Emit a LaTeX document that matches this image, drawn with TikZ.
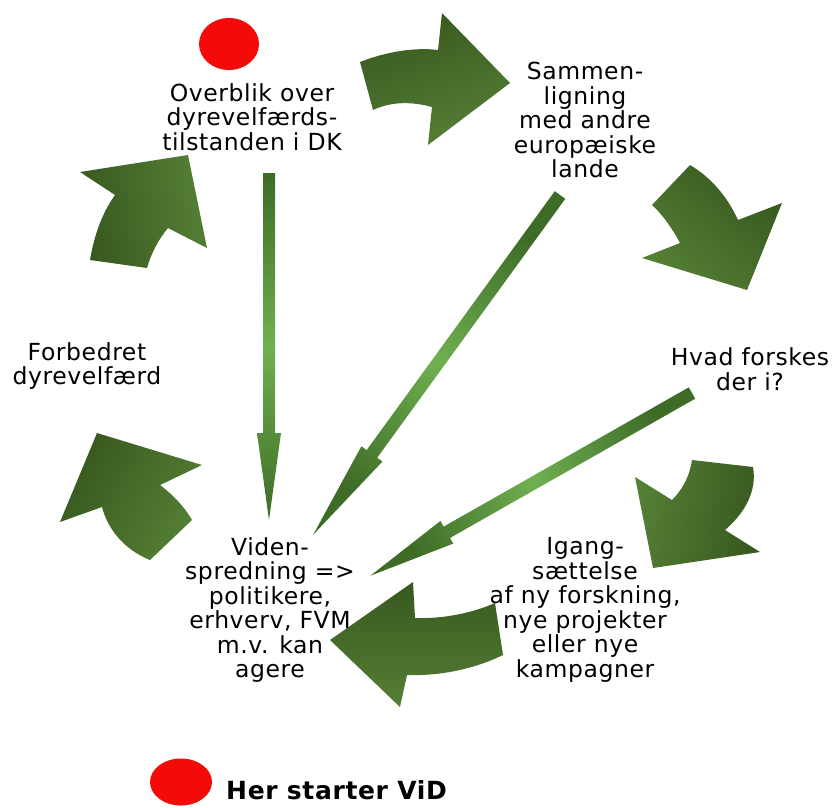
\documentclass[tikz,border=0pt]{standalone}
\usepackage{fontspec}
\setmainfont[LetterSpace=2.5]{DejaVu Sans}
\definecolor{gdark}{HTML}{37581F}
\definecolor{glight}{HTML}{557F35}
\definecolor{tdark}{HTML}{3E6C27}
\definecolor{tlight}{HTML}{6FB050}
\definecolor{dotred}{HTML}{F50A0A}
\usetikzlibrary{shapes.geometric}
\tikzset{
  bigarrow/.style={top color=gdark, bottom color=glight, draw=none},
  thinarrow/.style={top color=tdark, bottom color=tdark, middle color=tlight, draw=none},
  lbl/.style={align=center, font=\fontsize{23.5}{24.5}\selectfont, inner sep=0pt, text=black},
  dot/.style={ellipse, fill=dotred, draw=none, inner sep=0pt}
}
\begin{document}
\begin{tikzpicture}[x=1pt,y=-1pt]
\useasboundingbox (0,0) rectangle (834,807);

% big curved arrows
\shade[bigarrow, shading angle=20] (360,62) .. controls (385,52) and (415,47) .. (438,50) -- (442,13) -- (510,83) -- (428,145) -- (432,107) .. controls (410,101) and (390,102) .. (373,110) -- cycle;
\shade[bigarrow, shading angle=-40] (690,165) .. controls (712,178) and (728,198) .. (738,220) -- (782,203) -- (747,290) -- (642,258) -- (680,243) .. controls (672,228) and (662,214) .. (652,205) -- cycle;
\shade[bigarrow, shading angle=-100] (753,467) .. controls (757,490) and (746,512) .. (725,530) -- (760,552) -- (653,568) -- (635,477) -- (672,500) .. controls (684,488) and (690,474) .. (692,460) -- cycle;
\shade[bigarrow, shading angle=0] (503,655) .. controls (470,671) and (435,676) .. (407,675) -- (400,707) -- (330,640) -- (413,582) -- (415,618) .. controls (440,619) and (470,614) .. (495,603) -- cycle;
\shade[bigarrow, shading angle=60] (150,560) .. controls (125,550) and (108,530) .. (102,507) -- (60,522) -- (97,433) -- (202,465) -- (160,485) .. controls (172,494) and (184,506) .. (192,520) -- cycle;
\shade[bigarrow, shading angle=100] (90,260) .. controls (94,236) and (102,213) .. (115,195) -- (80,172) -- (188,155) -- (207,248) -- (168,228) .. controls (158,240) and (151,254) .. (147,268) -- cycle;

% labels
\node[lbl] (overblik) at (252,117) {Overblik over\\dyrevelfærds-\\tilstanden i DK};
\node[lbl] (sammen) at (585,120) {Sammen-\\ligning\\med andre\\europæiske\\lande};
\node[lbl] (hvad) at (750,369) {Hvad forskes\\der i?};
\node[lbl] (forbedret) at (87,366) {Forbedret\\dyrevelfærd};
\node[lbl] (viden) at (270,610) {Viden-\\spredning =>\\politikere,\\erhverv, FVM\\m.v. kan\\agere};
\node[lbl] (igang) at (585,610) {Igang-\\sættelse\\af ny forskning,\\nye projekter\\eller nye\\kampagner};

% red dots
\node[dot, minimum width=60pt, minimum height=52pt] (dottop) at (229,44) {};
\node[dot, minimum width=62pt, minimum height=47pt] (dotbot) at (181,782) {};
\node[anchor=base west, inner sep=0pt, font=\fontsize{25}{27}\selectfont\bfseries] (her) at (226,799) {Her starter ViD};

% thin arrows
\coordinate (s1) at (269,173);
\coordinate (s2) at (560,195);
\coordinate (s3) at (692,393);
\begin{scope}[shift={(s1)}, rotate=270]
  \shade[thinarrow, shading angle=0] (0,-6) -- (260,-6) -- (260,-12) -- (347,0) -- (260,12) -- (260,6) -- (0,6) -- cycle;
\end{scope}
\begin{scope}[shift={(s2)}, rotate=234]
  \shade[thinarrow, shading angle=324] (0,-6.5) -- (320,-6.5) -- (320,-13) -- (420,0) -- (320,13) -- (320,6.5) -- (0,6.5) -- cycle;
\end{scope}
\begin{scope}[shift={(s3)}, rotate=209.6]
  \shade[thinarrow, shading angle=299.6] (0,-6.5) -- (282,-6.5) -- (282,-13) -- (370,0) -- (282,13) -- (282,6.5) -- (0,6.5) -- cycle;
\end{scope}
\end{tikzpicture}
\end{document}
